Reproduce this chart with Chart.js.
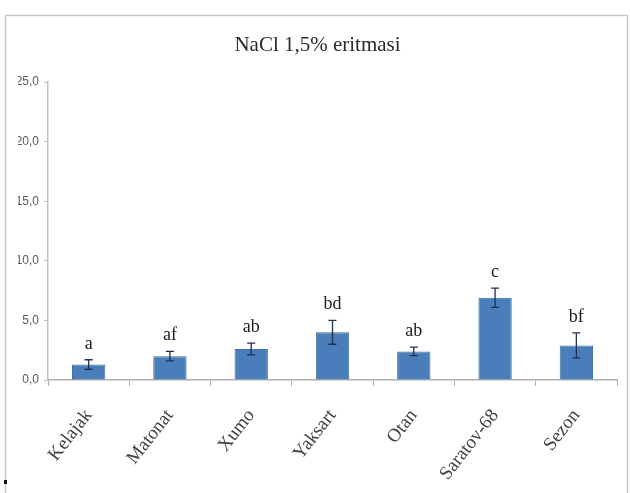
<!DOCTYPE html>
<html>
<head>
<meta charset="utf-8">
<script src="https://cdn.jsdelivr.net/npm/chart.js@4"></script>
<style>
  html, body { margin: 0; padding: 0; background: #ffffff; }
  canvas { display: block; }
</style>
</head>
<body>
<canvas id="chart" width="630" height="493"></canvas>
<script>
// Varieties and germination values in NaCl 1.5% solution
const categories = ['Kelajak', 'Matonat', 'Xumo', 'Yaksart', 'Otan', 'Saratov-68', 'Sezon'];
const means = [1.3, 2.0, 2.6, 4.0, 2.4, 6.9, 2.9];
const errors = [0.4, 0.4, 0.5, 1.0, 0.35, 0.8, 1.05];
const letters = ['a', 'af', 'ab', 'bd', 'ab', 'c', 'bf'];
const yTickLabels = ['0,0', '5,0', '10,0', '15,0', '20,0', '25,0'];

const SERIF = '"Liberation Serif", "Times New Roman", serif';
const SANS = '"Liberation Sans", Arial, sans-serif';

// Light grey frame around the whole chart
const framePlugin = {
  id: 'frame',
  beforeDraw(chart) {
    const ctx = chart.ctx;
    ctx.save();
    ctx.strokeStyle = '#c8c8c8';
    ctx.lineWidth = 1.5;
    ctx.strokeRect(5.5, 15.5, 622, 520);
    ctx.fillStyle = '#111';
    ctx.fillRect(4, 480, 3, 4);
    ctx.restore();
  }
};

// Error bars and significance letters above each bar
const errorPlugin = {
  id: 'errorBars',
  afterDatasetsDraw(chart) {
    const ctx = chart.ctx;
    const x = chart.scales.x;
    const y = chart.scales.y;
    ctx.save();
    ctx.strokeStyle = '#1f3050';
    ctx.lineWidth = 1.3;
    ctx.fillStyle = '#1a1a1a';
    ctx.font = '18px ' + SERIF;
    ctx.textAlign = 'center';
    ctx.textBaseline = 'alphabetic';
    means.forEach((m, i) => {
      const px = x.getPixelForValue(i);
      const top = y.getPixelForValue(m + errors[i]);
      const bot = y.getPixelForValue(m - errors[i]);
      ctx.beginPath();
      ctx.moveTo(px, top);
      ctx.lineTo(px, bot);
      ctx.moveTo(px - 4, top);
      ctx.lineTo(px + 4, top);
      ctx.moveTo(px - 4, bot);
      ctx.lineTo(px + 4, bot);
      ctx.stroke();
      ctx.fillText(letters[i], px, top - 11);
    });
    ctx.restore();
  }
};

new Chart(document.getElementById('chart'), {
  type: 'bar',
  data: {
    labels: categories,
    datasets: [{
      data: means,
      backgroundColor: '#4a7ebb',
      borderColor: '#41719c',
      borderWidth: 1,
      barPercentage: 0.41,
      categoryPercentage: 1.0
    }]
  },
  options: {
    responsive: false,
    animation: false,
    layout: { padding: { top: 20, right: 13, left: 18, bottom: 0 } },
    plugins: {
      legend: { display: false },
      tooltip: { enabled: false },
      title: {
        display: true,
        text: 'NaCl 1,5% eritmasi',
        color: '#2a2a2a',
        font: { family: SERIF, size: 21, weight: 'normal' },
        padding: { top: 12.4, bottom: 24.4 }
      }
    },
    scales: {
      x: {
        grid: {
          drawOnChartArea: false,
          offset: true,
          tickLength: 6,
          color: '#b0b0b0'
        },
        border: { color: '#b0b0b0', width: 1.5 },
        ticks: {
          minRotation: 52,
          maxRotation: 52,
          padding: 19,
          color: '#404040',
          font: { family: SERIF, size: 19 }
        },
        afterFit(scale) { scale.height = 113; }
      },
      y: {
        min: 0,
        max: 25,
        grid: {
          drawOnChartArea: false,
          tickLength: 4,
          color: '#c0c0c0'
        },
        border: { color: '#c0c0c0', width: 1.5 },
        ticks: {
          stepSize: 5,
          padding: 5,
          color: '#595959',
          font: { family: SANS, size: 12 },
          callback: (v, i) => yTickLabels[i]
        },
        afterFit(scale) { scale.width = 30; }
      }
    }
  },
  plugins: [framePlugin, errorPlugin]
});
</script>
</body>
</html>
